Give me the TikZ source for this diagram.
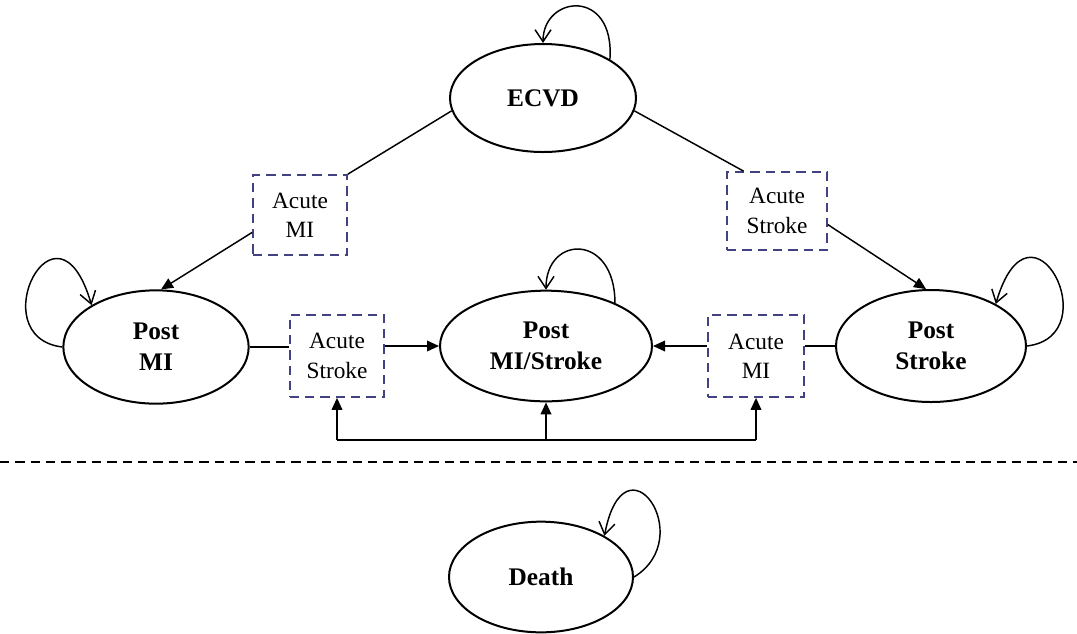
\documentclass[tikz,border=0pt]{standalone}
\usepackage{fontspec}
\setmainfont{Liberation Serif}
\usetikzlibrary{shapes.geometric,arrows.meta}

\definecolor{boxblue}{RGB}{66,66,130}

\tikzset{every picture/.style={line width=0.75pt}}
\tikzset{
  state/.style={ellipse,draw,line width=1.5pt,inner sep=0pt,align=center,
    font=\fontsize{19}{23}\selectfont\bfseries},
  acutebox/.style={draw=boxblue,line width=1.3pt,dash pattern=on 7pt off 4.5pt,
    inner sep=0pt,align=center,font=\fontsize{17.5}{22}\selectfont},
  flow/.style={line width=1.1pt,-{Triangle[length=9pt,width=8pt]}},
  selfloop/.style={line width=1.1pt,-{Straight Barb[length=9pt,width=12pt]}},
}

\begin{document}
\begin{tikzpicture}[x=0.75pt,y=0.75pt,yscale=-1,xscale=1]
\useasboundingbox (0,0) rectangle (1077,633);

%Shape: Ellipse [id:ecvd]
\node [state,minimum width=139.5pt,minimum height=81pt] (ecvd) at (543,98) {ECVD};
%Shape: Ellipse [id:postmi]
\node [state,minimum width=139pt,minimum height=85pt] (postmi) at (156,347) {Post\\MI};
%Shape: Ellipse [id:postboth]
\node [state,minimum width=159pt,minimum height=83pt] (postboth) at (546,346) {Post\\MI/Stroke};
%Shape: Ellipse [id:poststroke]
\node [state,minimum width=142.5pt,minimum height=84pt] (poststroke) at (931,346) {Post\\Stroke};
%Shape: Ellipse [id:death]
\node [state,minimum width=138pt,minimum height=83pt] (death) at (541,577) {Death};

%Shape: Rectangle [id:acutemi1]
\node [acutebox,minimum width=70.5pt,minimum height=60pt] (acutemi1) at (300,215) {Acute\\MI};
%Shape: Rectangle [id:acutestroke1]
\node [acutebox,minimum width=75pt,minimum height=58.5pt] (acutestroke1) at (777,211) {Acute\\Stroke};
%Shape: Rectangle [id:acutestroke2]
\node [acutebox,minimum width=71pt,minimum height=61.5pt] (acutestroke2) at (337,356) {Acute\\Stroke};
%Shape: Rectangle [id:acutemi2]
\node [acutebox,minimum width=72pt,minimum height=61.5pt] (acutemi2) at (756,356) {Acute\\MI};

%Straight Lines
\draw [line width=1.1pt] (ecvd.188) -- (acutemi1.north east);
\draw [flow] (acutemi1.200) -- (postmi.85);
\draw [line width=1.1pt] (ecvd.-8) -- (acutestroke1.130);
\draw [flow] (acutestroke1.-15) -- (poststroke.95);
\draw [line width=1.1pt] (postmi.east) -- (postmi.east -| acutestroke2.west);
\draw [flow] (acutestroke2.east |- postboth.west) -- (postboth.west);
\draw [line width=1.1pt] (poststroke.west) -- (poststroke.west -| acutemi2.east);
\draw [flow] (acutemi2.west |- postboth.east) -- (postboth.east);

%Bottom bar
\coordinate (bar) at (0,440);
\draw [line width=1.1pt] (acutestroke2.south |- bar) -- (acutemi2.south |- bar);
\draw [flow] (acutestroke2.south |- bar) -- (acutestroke2.south);
\draw [flow] (postboth.south |- bar) -- (postboth.south);
\draw [flow] (acutemi2.south |- bar) -- (acutemi2.south);

%Separator
\coordinate (sepl) at (0,462);
\coordinate (sepr) at (1077,462);
\draw [line width=1.2pt,dash pattern=on 7pt off 4.5pt] (sepl) -- (sepr);

%Curve Lines (self loops)
\draw [selfloop] (ecvd.30) .. controls +(5,-72) and +(0,-48) .. (ecvd.north);
\draw [selfloop] (postmi.west) .. controls +(-82,-10) and +(-35,-120) .. (postmi.147);
\draw [selfloop] (postboth.32) .. controls +(0,-70) and +(0,-55) .. (postboth.north);
\draw [selfloop] (poststroke.east) .. controls +(82,-10) and +(35,-120) .. (poststroke.33);
\draw [selfloop] (death.east) .. controls +(65,-40) and +(20,-105) .. (death.33);

\end{tikzpicture}
\end{document}
